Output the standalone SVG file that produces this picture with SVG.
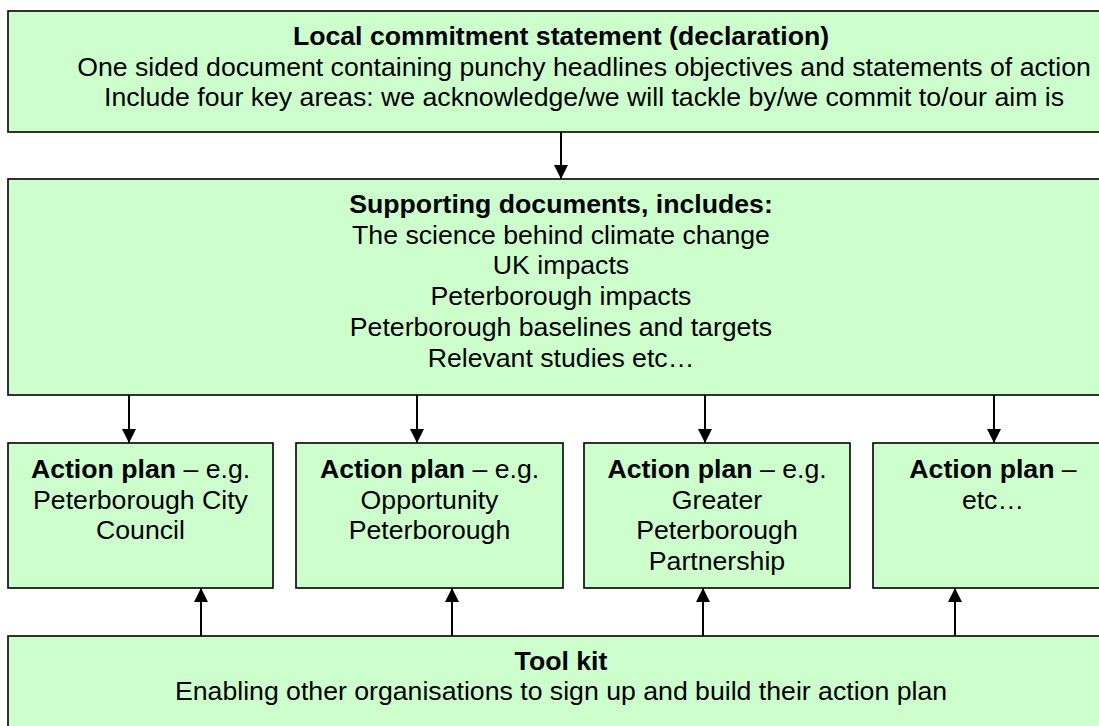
<svg xmlns="http://www.w3.org/2000/svg" width="1099" height="726" viewBox="0 0 1099 726">
<style>
.box{fill:#CCFFCC;stroke:#000;stroke-width:1.6}
text{font-family:"Liberation Sans",Arial,sans-serif;font-size:26.67px;fill:#000;text-anchor:middle}
.b{font-weight:bold}
.c{stroke:#000;stroke-width:2;fill:none}
</style>
<defs>
<marker id="ah" markerUnits="userSpaceOnUse" markerWidth="14" markerHeight="14" viewBox="0 0 14 14" refX="14" refY="7" orient="auto">
<path d="M0,0 L14,7 L0,14 Z" fill="#000"/>
</marker>
</defs>
<rect width="1099" height="726" fill="#fff"/>
<g id="connectors">
<line class="c" x1="561" y1="132" x2="561" y2="179" marker-end="url(#ah)"/>
<line class="c" x1="129" y1="395" x2="129" y2="443" marker-end="url(#ah)"/>
<line class="c" x1="417" y1="395" x2="417" y2="443" marker-end="url(#ah)"/>
<line class="c" x1="705" y1="395" x2="705" y2="443" marker-end="url(#ah)"/>
<line class="c" x1="994" y1="395" x2="994" y2="443" marker-end="url(#ah)"/>
<line class="c" x1="201" y1="636" x2="201" y2="588" marker-end="url(#ah)"/>
<line class="c" x1="452" y1="636" x2="452" y2="588" marker-end="url(#ah)"/>
<line class="c" x1="703" y1="636" x2="703" y2="588" marker-end="url(#ah)"/>
<line class="c" x1="955" y1="636" x2="955" y2="588" marker-end="url(#ah)"/>
</g>
<g id="commitment">
<rect class="box" x="8" y="11" width="1106" height="121"/>
<text x="561" y="45" class="b">Local commitment statement (declaration)</text>
<text x="584" y="75.5">One sided document containing punchy headlines objectives and statements of action</text>
<text x="584" y="105.5">Include four key areas: we acknowledge/we will tackle by/we commit to/our aim is</text>
</g>
<g id="supporting">
<rect class="box" x="8" y="179" width="1106" height="216"/>
<text x="561" y="213" class="b">Supporting documents, includes:</text>
<text x="561" y="243.7">The science behind climate change</text>
<text x="561" y="274.4">UK impacts</text>
<text x="561" y="305.1">Peterborough impacts</text>
<text x="561" y="335.8">Peterborough baselines and targets</text>
<text x="561" y="366.5">Relevant studies etc…</text>
</g>
<g id="plan-pcc">
<rect class="box" x="8" y="443" width="265" height="145"/>
<text x="140.5" y="478"><tspan class="b">Action plan</tspan> – e.g.</text>
<text x="140.5" y="508.7">Peterborough City</text>
<text x="140.5" y="539.4">Council</text>
</g>
<g id="plan-op">
<rect class="box" x="296" y="443" width="267" height="145"/>
<text x="429.5" y="478"><tspan class="b">Action plan</tspan> – e.g.</text>
<text x="429.5" y="508.7">Opportunity</text>
<text x="429.5" y="539.4">Peterborough</text>
</g>
<g id="plan-gpp">
<rect class="box" x="584" y="443" width="266" height="145"/>
<text x="717" y="478"><tspan class="b">Action plan</tspan> – e.g.</text>
<text x="717" y="508.7">Greater</text>
<text x="717" y="539.4">Peterborough</text>
<text x="717" y="570.1">Partnership</text>
</g>
<g id="plan-etc">
<rect class="box" x="873" y="443" width="240" height="145"/>
<text x="993" y="478"><tspan class="b">Action plan</tspan> –</text>
<text x="993" y="508.7">etc…</text>
</g>
<g id="toolkit">
<rect class="box" x="8" y="636" width="1106" height="100"/>
<text x="561" y="669.5" class="b">Tool kit</text>
<text x="561" y="700.2">Enabling other organisations to sign up and build their action plan</text>
</g>
</svg>
